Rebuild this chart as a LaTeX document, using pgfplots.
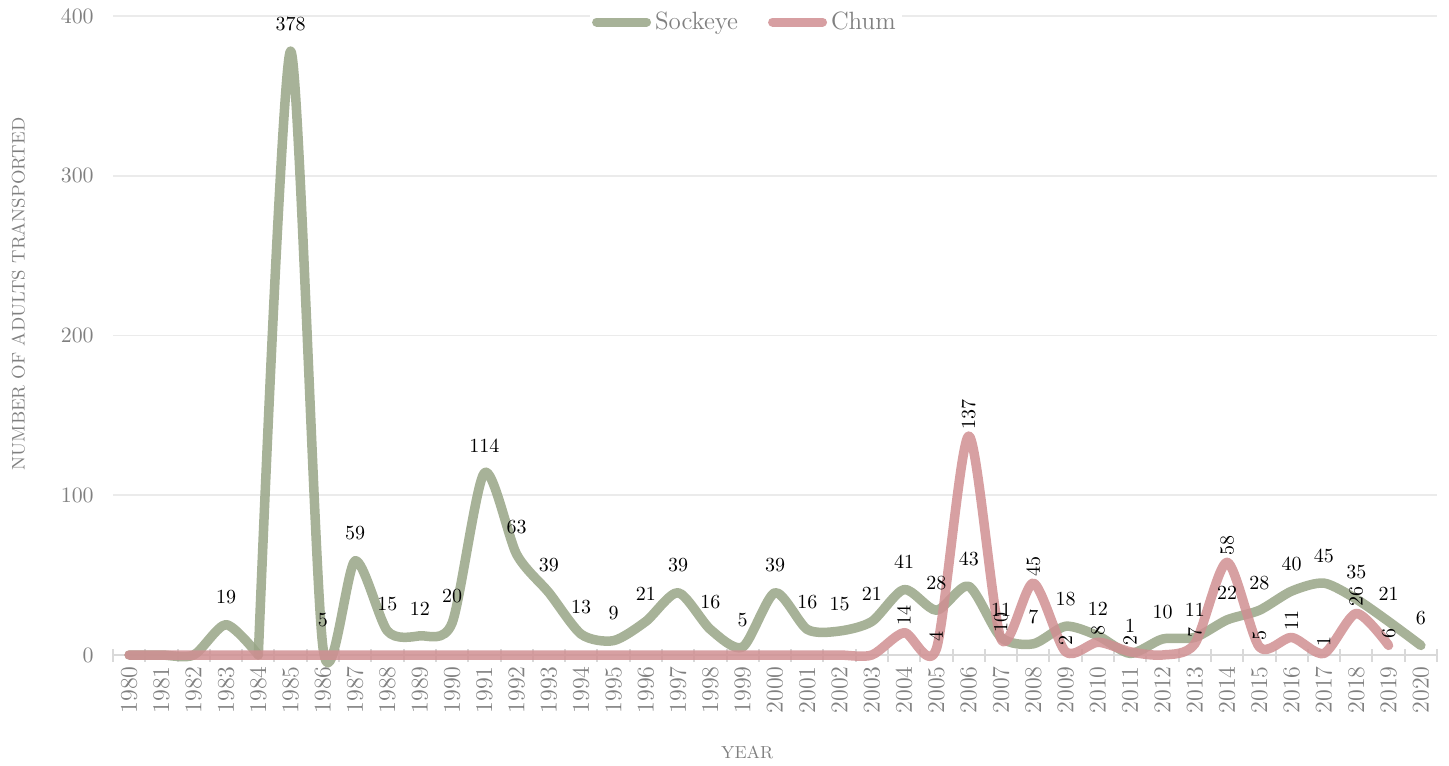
\documentclass[border=0pt]{standalone}
\usepackage{pgfplots}
\pgfplotsset{compat=1.18}
\definecolor{sock}{RGB}{152,165,134}
\definecolor{chum}{RGB}{208,143,146}
\definecolor{txtgray}{RGB}{128,128,128}
\definecolor{gridc}{RGB}{235,235,235}
\definecolor{axc}{RGB}{217,217,217}
\begin{document}
\begin{tikzpicture}
\path[use as bounding box] (-56.5pt,-55pt) rectangle (668pt,327.5pt);
\begin{axis}[
  scale only axis,
  width=662pt, height=319.5pt,
  xmin=1979.5, xmax=2020.5,
  ymin=0, ymax=400,
  clip=false,
  axis y line*=left,
  axis x line*=bottom,
  y axis line style={draw=none},
  x axis line style={draw=axc, line width=1pt},
  xtick={1980,1981,...,2020},
  minor xtick={1979.5,1980.5,...,2020.5},
  major x tick style={draw=none},
  minor x tick style={draw=axc, line width=1pt},
  minor tick length=6.5pt,
  tick align=center,
  xticklabel style={rotate=90, anchor=east, font=\fontsize{11.5}{13}\selectfont, text=txtgray},
  xticklabel={\pgfmathprintnumber[1000 sep={},fixed]{\tick}},
  ytick={0,100,200,300,400},
  yticklabel style={font=\fontsize{11}{13}\selectfont, text=txtgray, xshift=-4pt},
  major y tick style={draw=none},
  ymajorgrids, grid style={draw=gridc, line width=0.8pt},
  xlabel={YEAR},
  ylabel={NUMBER OF ADULTS TRANSPORTED},
  xlabel style={font=\fontsize{8.7}{10}\selectfont, text=txtgray, at={(axis description cs:0.479,-0.152)}, anchor=center},
  ylabel style={font=\fontsize{9.1}{10}\selectfont, text=txtgray, at={(axis description cs:-0.0715,0.565)}, anchor=center, rotate=0},
  legend columns=2,
  legend style={at={(axis description cs:0.478,0.9906)}, anchor=center, draw=none, fill=white, font=\fontsize{12.5}{14}\selectfont, text=txtgray, inner sep=1pt,
    /tikz/every even column/.append style={column sep=13pt}},
  legend image code/.code={\draw[#1, line width=4.5pt, line cap=round] (2pt,0pt) -- (27pt,0pt);},
  every axis plot/.append style={line width=4.75pt, line cap=round, line join=round, smooth, tension=0.45, mark=none},
  sockstyle/.style={draw=sock, draw opacity=0.85,
    nodes near coords={\pgfmathfloatifflags{\pgfplotspointmeta}{0}{}{\pgfmathprintnumber{\pgfplotspointmeta}}},
    every node near coord/.append style={font=\fontsize{10}{12}\selectfont, text=black, anchor=south, inner sep=3pt, yshift=5pt, opacity=1, text opacity=1}},
]
\addplot[sockstyle]
coordinates {
(1980,0)(1981,0)(1982,0)(1983,19)(1984,0)
};
\addlegendentry{Sockeye}
\addplot[sockstyle, forget plot]
coordinates {
(1984,0)(1985,378)(1986,5)(1987,59)(1988,15)(1989,12)
(1990,20)(1991,114)(1992,63)(1993,39)(1994,13)(1995,9)(1996,21)(1997,39)(1998,16)(1999,5)
(2000,39)(2001,16)(2002,15)(2003,21)(2004,41)(2005,28)(2006,43)(2007,11)(2008,7)(2009,18)
(2010,12)(2011,1)(2012,10)(2013,11)(2014,22)(2015,28)(2016,40)(2017,45)(2018,35)(2019,21)(2020,6)
};
\addplot[draw=chum, draw opacity=0.85,
  nodes near coords={\pgfmathfloatifflags{\pgfplotspointmeta}{0}{}{\pgfmathprintnumber{\pgfplotspointmeta}}},
  every node near coord/.append style={font=\fontsize{10}{12}\selectfont, text=black, rotate=90, anchor=west, inner sep=1pt, opacity=1, text opacity=1}]
coordinates {
(1980,0)(1981,0)(1982,0)(1983,0)(1984,0)(1985,0)(1986,0)(1987,0)(1988,0)(1989,0)
(1990,0)(1991,0)(1992,0)(1993,0)(1994,0)(1995,0)(1996,0)(1997,0)(1998,0)(1999,0)
(2000,0)(2001,0)(2002,0)(2003,0)(2004,14)(2005,4)(2006,137)(2007,10)(2008,45)(2009,2)
(2010,8)(2011,2)(2012,0)(2013,7)(2014,58)(2015,5)(2016,11)(2017,1)(2018,26)(2019,6)
};
\addlegendentry{Chum}
\end{axis}
\end{tikzpicture}
\end{document}
